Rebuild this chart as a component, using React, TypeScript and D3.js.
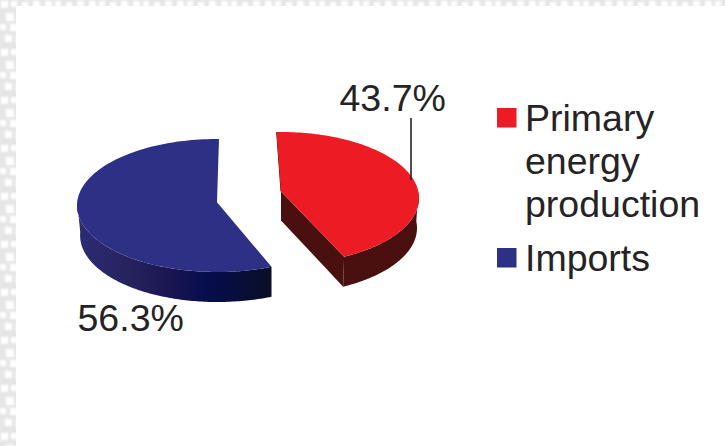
import React from "react";
import * as d3 from "d3";

const categories = ["Primary energy production", "Imports"];
const shares = [43.7, 56.3];
const shareLabels = ["43.7%", "56.3%"];
const legendLines = [["Primary", "energy", "production"], ["Imports"]];
const sliceColors = ["#ed1c24", "#2e3086"];

const WIDTH = 725;
const HEIGHT = 446;
const DEPTH = 30;
const FONT = "'Liberation Sans', Arial, sans-serif";
const INK = "#262324";

// Disc placement of each exploded slice; tilt moves the visual centre up the ellipse.
const discs = [
  { cx: 281, cy: 198, rx: 138, ry: 66, tilt: -0.1, turn: -0.015 },
  { cx: 217, cy: 205.5, rx: 140, ry: 66.5, tilt: -0.05, turn: 0.035 },
];

type Disc = (typeof discs)[number];

// Perspective projection of a unit disc, angle measured clockwise from the back of the pie.
const project = (d: Disc, angle: number, drop = 0, shrink = 0): [number, number] => {
  const u = Math.sin(angle + d.turn);
  const v = -Math.cos(angle + d.turn);
  const w = 1 + d.tilt * v;
  const x = (u * Math.sqrt(1 - d.tilt * d.tilt)) / w;
  const y = (v + d.tilt) / w;
  return [d.cx + (d.rx - shrink) * x, d.cy + drop + d.ry * y];
};

const centre = (d: Disc, drop = 0): [number, number] => [d.cx, d.cy + drop + d.ry * d.tilt];

const arcPoints = (d: Disc, a0: number, a1: number, drop = 0, shrink = 0) =>
  d3.range(0, 121).map((i) => project(d, a0 + ((a1 - a0) * i) / 120, drop, shrink));

const line = d3.line();
const closed = (pts: [number, number][]) => (line(pts) ?? "") + "Z";

const slices = d3
  .pie<number>()
  .sort(null)
  .startAngle(-0.02)
  .endAngle(-0.02 + 2 * Math.PI)(shares);

const TAU = 2 * Math.PI;

// Red wedge: rim wall from the right extreme to the tip, plus the visible cut face.
const redAngle = slices[0];
const red = discs[0];
const redTop = closed([centre(red), ...arcPoints(red, redAngle.startAngle, redAngle.endAngle)]);
const redWall = closed([
  ...arcPoints(red, Math.PI / 2 - red.turn, redAngle.endAngle),
  ...arcPoints(red, redAngle.endAngle, Math.PI / 2 - red.turn, DEPTH, 2),
]);
const tip = project(red, redAngle.endAngle);
const tipLow = project(red, redAngle.endAngle, DEPTH, 2);
const redCut = closed([centre(red), tip, tipLow, centre(red, DEPTH - 1)]);
const backEdge = line([centre(red), project(red, redAngle.startAngle)]) ?? "";

// Blue wedge: only the outer rim wall faces the viewer.
const blueAngle = slices[1];
const blue = discs[1];
const blueTop = closed([centre(blue), ...arcPoints(blue, blueAngle.startAngle, blueAngle.endAngle)]);
const blueWallStart = (3 * TAU) / 4 - blue.turn;
const blueWall = closed([
  ...arcPoints(blue, blueAngle.startAngle, blueWallStart),
  ...arcPoints(blue, blueWallStart, blueAngle.startAngle, DEPTH, 0).map(
    ([x, y]): [number, number] => [blue.cx + (x - blue.cx) * (x < blue.cx ? 0.978 : 1), y],
  ),
]);

// Speckled backdrop tile used for the page frame.
const tileSquares = [
  [1, 1, 7], [11, 1, 6], [22, 2, 6], [33, 1, 7],
  [6, 13, 8], [18, 11, 6], [28, 14, 7], [38, 11, 5],
  [0, 24, 6], [10, 24, 7], [22, 25, 8], [34, 23, 6],
  [5, 35, 7], [16, 36, 6], [28, 35, 7], [38, 35, 5],
];

const legendRows = [
  { swatchY: 108, baselines: [131, 174, 217] },
  { swatchY: 248, baselines: [271] },
];

export default function App() {
  return (
    <svg
      width={WIDTH}
      height={HEIGHT}
      viewBox={`0 0 ${WIDTH} ${HEIGHT}`}
      style={{ position: "absolute", left: 0, top: 0, background: "#fff" }}
    >
      <defs>
        <filter id="soft" x="-40%" y="-40%" width="180%" height="180%">
          <feGaussianBlur stdDeviation="0.9" />
        </filter>
        <pattern id="frame" width="44" height="48" patternUnits="userSpaceOnUse">
          <rect width="44" height="48" fill="#e6e6e6" />
          {tileSquares.map(([x, y, s], i) => (
            <rect key={i} x={x} y={y} width={s} height={s} fill="#fff" filter="url(#soft)" />
          ))}
        </pattern>
        <linearGradient id="blueSide" gradientUnits="userSpaceOnUse" x1="78" x2="273" y1="0" y2="0">
          <stop offset="0" stopColor="#2c2c74" />
          <stop offset="0.25" stopColor="#26235f" />
          <stop offset="0.52" stopColor="#161350" />
          <stop offset="0.66" stopColor="#050d4d" />
          <stop offset="1" stopColor="#0b0e26" />
        </linearGradient>
      </defs>

      <path d={`M0 0H${WIDTH}V6H16V${HEIGHT}H0Z`} fill="url(#frame)" />

      <g>
        <path d={blueWall} fill="url(#blueSide)" />
        <path d={blueTop} fill={sliceColors[1]} />
        <path d={redCut} fill="#4a1010" />
        <path d={redWall} fill="#4a1010" />
        <path d={backEdge} fill="none" stroke="#4a1010" strokeWidth={1} />
        <path d={redTop} fill={sliceColors[0]} />
      </g>

      <line x1={411} x2={411} y1={118} y2={180} stroke={INK} strokeWidth={1.6} />

      <g fontFamily={FONT} fontSize={37.5} fill={INK}>
        <text x={339.5} y={111}>{shareLabels[0]}</text>
        <text x={77.5} y={331}>{shareLabels[1]}</text>
        {legendRows.map((row, i) => (
          <g key={categories[i]}>
            <rect x={497} y={row.swatchY} width={19.5} height={19.5} fill={sliceColors[i]} />
            {legendLines[i].map((t, j) => (
              <text key={t} x={525} y={row.baselines[j]}>{t}</text>
            ))}
          </g>
        ))}
      </g>
    </svg>
  );
}
